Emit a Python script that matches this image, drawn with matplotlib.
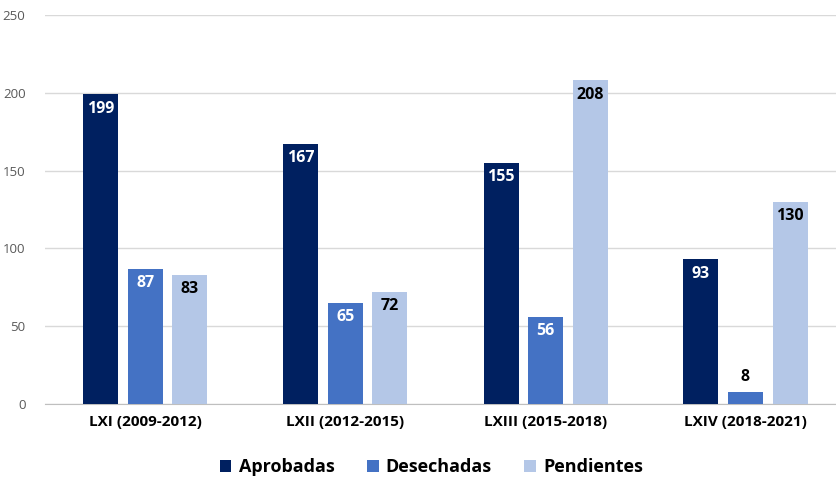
import numpy as np
import matplotlib.pyplot as plt

categories = ['LXI (2009-2012)', 'LXII (2012-2015)', 'LXIII (2015-2018)', 'LXIV (2018-2021)']
aprobadas = [199, 167, 155, 93]
desechadas = [87, 65, 56, 8]
pendientes = [83, 72, 208, 130]

series = ['Aprobadas', 'Desechadas', 'Pendientes']
colors = ['#002060', '#4472C4', '#B4C7E7']
label_colors = ['white', 'white', 'black']

plt.rcParams['font.family'] = ['Open Sans', 'DejaVu Sans']

fig = plt.figure(figsize=(8.37, 4.79), dpi=100)
ax = fig.add_axes([45 / 837, 1 - 404 / 479, 792 / 837, 389 / 479])

x = np.arange(len(categories))
width = 0.175
step = 0.2225

for i, (name, vals) in enumerate(zip(series, [aprobadas, desechadas, pendientes])):
    pos = x + (i - 1) * step
    ax.bar(pos, vals, width, color=colors[i], label=name, zorder=3)
    for p, v in zip(pos, vals):
        if v < 20:
            ax.text(p, v + 4, str(v), ha='center', va='bottom', fontsize=11.5,
                    fontweight='bold', color='black', zorder=4)
        else:
            ax.text(p, v - 4, str(v), ha='center', va='top', fontsize=11.5,
                    fontweight='bold', color=label_colors[i], zorder=4)

ax.set_xlim(-0.5025, 3.4575)
ax.set_ylim(0, 250)
ax.set_yticks([0, 50, 100, 150, 200, 250])
ax.yaxis.grid(True, color='#d9d9d9', linewidth=1, zorder=0)
ax.set_xticks(x)
ax.set_xticklabels(categories, fontsize=11, fontweight='bold')
ax.tick_params(axis='both', length=0)
ax.tick_params(axis='y', labelsize=9.5, labelcolor='#595959', pad=14)
ax.tick_params(axis='x', pad=8)
for s in ['top', 'right', 'left']:
    ax.spines[s].set_visible(False)
ax.spines['bottom'].set_color('#bfbfbf')

ax.legend(loc='center', bbox_to_anchor=(0.488, -0.162), ncol=3, frameon=False,
          prop={'size': 13, 'weight': 'bold'}, handlelength=0.65, handleheight=0.65,
          handletextpad=0.4, columnspacing=1.8)

fig.savefig('out.png', dpi=100)
